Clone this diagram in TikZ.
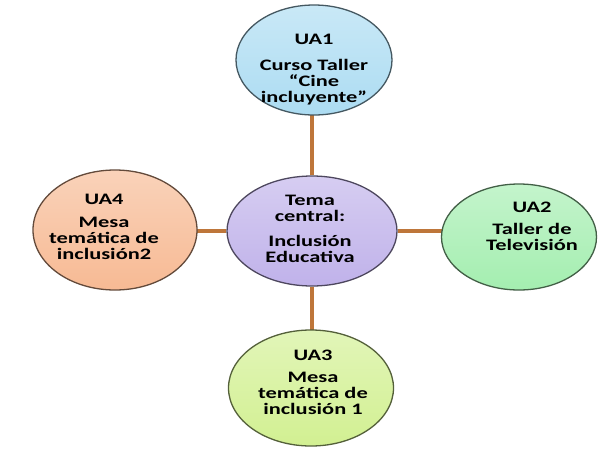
\documentclass[tikz,border=0pt]{standalone}
\usepackage{fontspec}
\newfontfamily\bubfont{Carlito}[FakeStretch=1.4]
\usetikzlibrary{shapes.geometric,backgrounds}
\definecolor{cblue}{RGB}{172,220,242}
\definecolor{clav}{RGB}{192,178,234}
\definecolor{cpeach}{RGB}{247,186,148}
\definecolor{cgreen}{RGB}{164,238,176}
\definecolor{cyell}{RGB}{210,240,146}
\definecolor{cconn}{RGB}{190,118,58}
\begin{document}
\begin{tikzpicture}[x=1pt,y=-1pt,
  bub/.style={ellipse, draw=#1!40!black, line width=1.3pt, inner sep=0pt,
    top color=#1!65!white, bottom color=#1},
  txt/.style={anchor=north, inner sep=0pt, align=center,
    font=\bubfont\bfseries\fontsize{16}{16}\selectfont, text=black},
  conn/.style={draw=cconn, line width=3.2pt}]
\path[use as bounding box] (0,0) rectangle (600,448);

\node[bub=cblue, minimum width=156pt, minimum height=110pt] (ua1) at (314,60) {};
\node[bub=clav, minimum width=170pt, minimum height=110pt] (c) at (312,231) {};
\node[bub=cpeach, minimum width=164pt, minimum height=120pt] (ua4) at (115,230) {};
\node[bub=cgreen, minimum width=155pt, minimum height=106pt] (ua2) at (519,237) {};
\node[bub=cyell, minimum width=165pt, minimum height=116pt] (ua3) at (311,388) {};

\begin{scope}[on background layer]
\fill[white] (0,0) rectangle (600,448);
\draw[conn] (c) -- (c |- ua1);
\draw[conn] (c) -- (c |- ua3);
\draw[conn] (c) -- (c -| ua4);
\draw[conn] (c) -- (c -| ua2);
\end{scope}

\node[txt] (t1) at (314,34) {UA1\\[10pt]Curso Taller\\“Cine\\incluyente”};
\node[txt] (tc) at (310,195) {Tema\\central:\\[9pt]Inclusión\\Educativa};
\node[txt] (t4) at (104,194) {UA4\\[7pt]Mesa\\temática de\\inclusión2};
\node[txt] (t2) at (532,202) {UA2\\[6pt]Taller de\\Televisión};
\node[txt] (t3) at (313,350) {UA3\\[6pt]Mesa\\temática de\\inclusión 1};
\end{tikzpicture}
\end{document}
